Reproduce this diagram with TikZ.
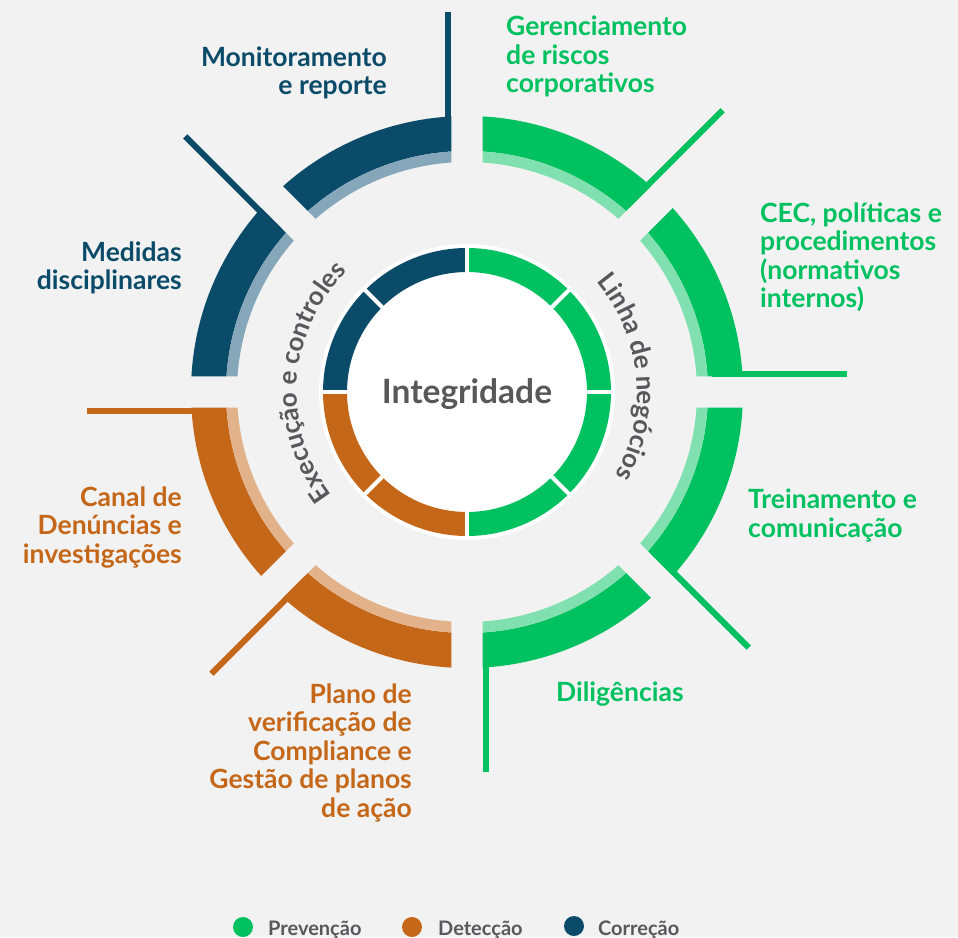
\documentclass[tikz,border=0pt]{standalone}
\usepackage{fontspec}
\setmainfont{Lato}
\usetikzlibrary{decorations.text}
\definecolor{bg}{HTML}{F2F2F2}
\definecolor{gdark}{HTML}{00C160}
\definecolor{glight}{HTML}{80E0AF}
\definecolor{bdark}{HTML}{0B4B6A}
\definecolor{blight}{HTML}{86A7B9}
\definecolor{odark}{HTML}{C56718}
\definecolor{olight}{HTML}{E2B38B}
\definecolor{txtgray}{HTML}{58585A}
\newcommand{\curvefont}{\bfseries\fontsize{26}{30}\selectfont}
\newcommand{\outerseg}[3]{%
  \begin{scope}
    \clip (#1+22.5:40.54) -- ([shift={(#1+90:15.5)}]#1:600) -- ([shift={(#1-45:15.5)}]#1+45:600) -- cycle;
    \fill[#2, even odd rule] (0,0) circle (276) (0,0) circle (241);
    \fill[#3, even odd rule] (0,0) circle (241) (0,0) circle (230);
  \end{scope}
  \draw[#2, line width=6] ([shift={(#1+90:18.5)}]#1:245) -- ([shift={(#1+90:18.5)}]#1:380);
}
\tikzset{
  lbl/.style={font=\bfseries\fontsize{26.5}{28.5}\selectfont, inner sep=0pt},
  lgd/.style={font=\bfseries\fontsize{20}{24}\selectfont, text=txtgray, inner sep=0pt, anchor=base west},
  dot/.style={circle, minimum size=20, inner sep=0pt}
}
\begin{document}
\begin{tikzpicture}[x=1pt,y=1pt]
\fill[bg] (-467,-545) rectangle (491,392);
\useasboundingbox (-467,-545) rectangle (491,392);

% outer ring
\outerseg{45}{gdark}{glight}
\outerseg{0}{gdark}{glight}
\outerseg{-45}{gdark}{glight}
\outerseg{-90}{gdark}{glight}
\outerseg{225}{odark}{olight}
\outerseg{180}{odark}{olight}
\outerseg{135}{bdark}{blight}
\outerseg{90}{bdark}{blight}

% inner ring
\fill[white] (0,0) circle (148);
\foreach \a/\c in {0/gdark,45/gdark,-45/gdark,-90/gdark,90/bdark,135/bdark,180/odark,225/odark}
  \fill[\c] (\a:144) arc[start angle=\a, end angle=\a+45, radius=144] -- (\a+45:120) arc[start angle=\a+45, end angle=\a, radius=120] -- cycle;
\foreach \a in {0,45,...,315}
  \draw[white, line width=4] (0,0) -- (\a:146);

\node[font=\bfseries\fontsize{33.5}{38}\selectfont, text=txtgray, anchor=base] (center) at (0,-11) {Integridade};

% curved texts
\path[decorate, decoration={text along path, text align=center, text color=txtgray, text={|\curvefont|Linha de negócios}}] (62:170) arc[start angle=62, end angle=-51, radius=170];
\path[decorate, decoration={text along path, text align=center, text color=txtgray, text={|\curvefont|Execução e controles}}] (234:170) arc[start angle=234, end angle=118, radius=170];

% labels (anchor at last line's baseline)
\node[lbl, text=bdark, align=right, anchor=base east] (mon) at (-80,297) {Monitoramento\\e reporte};
\node[lbl, text=gdark, align=left, anchor=base west] (ger) at (39,299) {Gerenciamento\\de riscos\\corporativos};
\node[lbl, text=gdark, align=left, anchor=base west] (cec) at (293,84) {CEC, políticas e\\procedimentos\\(normativos\\internos)};
\node[lbl, text=bdark, align=right, anchor=base east] (med) at (-285,102) {Medidas\\disciplinares};
\node[lbl, text=odark, align=right, anchor=base east] (can) at (-285,-171) {Canal de\\Denúncias e\\investigações};
\node[lbl, text=odark, align=right, anchor=base east] (pla) at (-55,-425) {Plano de\\verificação de\\Compliance e\\Gestão de planos\\de ação};
\node[lbl, text=gdark, align=left, anchor=base west] (tre) at (281,-145) {Treinamento e\\comunicação};
\node[lbl, text=gdark, align=left, anchor=base west] (dil) at (89,-309) {Diligências};

% legend
\node[dot, fill=gdark] (d1) at (-224,-535) {};
\node[lgd] (l1) at (-199,-543) {Prevenção};
\node[dot, fill=odark] (d2) at (-55,-535) {};
\node[lgd] (l2) at (-29,-543) {Detecção};
\node[dot, fill=bdark] (d3) at (107,-534) {};
\node[lgd] (l3) at (131,-543) {Correção};
\end{tikzpicture}
\end{document}
